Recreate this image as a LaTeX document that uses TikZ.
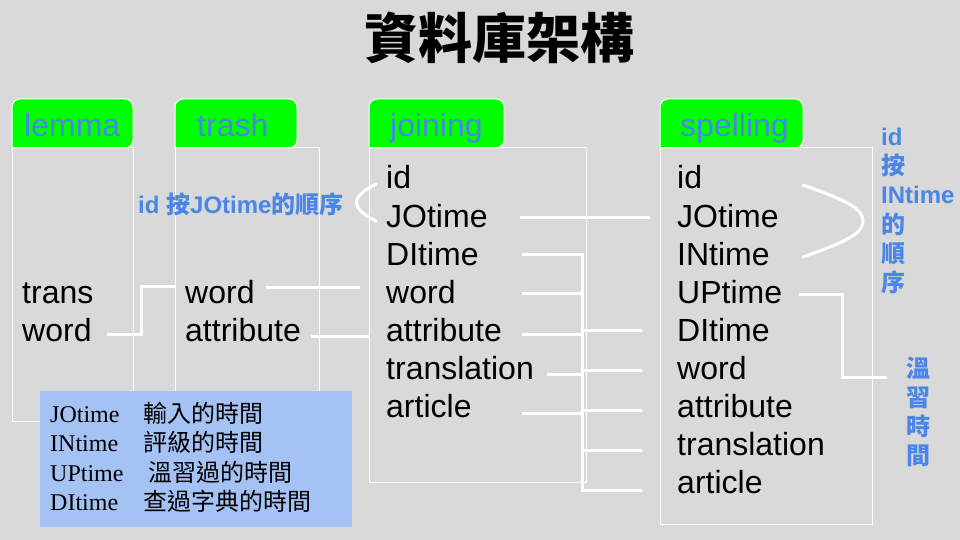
\documentclass[tikz,border=0pt]{standalone}
\usepackage{fontspec}
\setmainfont{Liberation Sans}
\newfontfamily\cjk{Noto Sans CJK TC}
\newfontfamily\tnr{Liberation Serif}
\definecolor{bgcol}{HTML}{D9D9D9}
\definecolor{tabgreen}{HTML}{00FF00}
\definecolor{lblblue}{HTML}{4A86E8}
\definecolor{legfill}{HTML}{A4C2F4}
\tikzset{
  tabbox/.style={draw=white, line width=1pt, fill=tabgreen, rounded corners=8pt},
  bodybox/.style={draw=white, line width=1pt},
  tabtext/.style={anchor=base west, inner sep=0pt, text=lblblue, font=\fontsize{32}{38}\selectfont},
  field/.style={anchor=base west, inner sep=0pt, text=black, font=\fontsize{32}{38}\selectfont},
  conn/.style={draw=white, line width=3pt},
  bluelbl/.style={anchor=base west, inner sep=0pt, text=lblblue, font=\bfseries\fontsize{24}{29}\selectfont},
  legtext/.style={anchor=base west, inner sep=0pt, text=black, font=\fontsize{24}{29}\selectfont},
}
\begin{document}
\begin{tikzpicture}[x=1pt, y=-1pt]
\useasboundingbox (0,0) rectangle (960,540);
\fill[bgcol] (0,0) rectangle (960,540);

% title
\node[inner sep=0pt, font=\cjk\bfseries\fontsize{54}{60}\selectfont] (title) at (499,38) {資料庫架構};

% tabs (rounded only at top)
\path[tabbox] (12,148) -- (12,99) -- (133,99) -- (133,148) [sharp corners] -- cycle;
\path[tabbox] (175,148) -- (175,99) -- (297,99) -- (297,148) [sharp corners] -- cycle;
\path[tabbox] (369,148) -- (369,99) -- (504,99) -- (504,148) [sharp corners] -- cycle;
\path[tabbox] (660,148) -- (660,99) -- (803,99) -- (803,148) [sharp corners] -- cycle;

% bodies
\draw[bodybox] (12,148) rectangle (133,421);
\draw[bodybox] (175,148) rectangle (319,421);
\draw[bodybox] (369,148) rectangle (586,482);
\draw[bodybox] (660,148) rectangle (872,524);

% headers
\node[tabtext] (h-lemma) at (24,137) {lemma};
\node[tabtext] (h-trash) at (197,137) {trash};
\node[tabtext] (h-join) at (390,137) {joining};
\node[tabtext] (h-spell) at (680,137) {spelling};

% lemma fields
\node[field] (l-trans) at (22,303) {trans};
\node[field] (l-word) at (22,341) {word};
% trash fields
\node[field] (t-word) at (185,303) {word};
\node[field] (t-attr) at (185,341) {attribute};
% joining fields
\node[field] (j-id) at (386,189) {id};
\node[field] (j-jo) at (386,227) {JOtime};
\node[field] (j-di) at (386,265) {DItime};
\node[field] (j-word) at (386,303) {word};
\node[field] (j-attr) at (386,341) {attribute};
\node[field] (j-trans) at (386,379) {translation};
\node[field] (j-art) at (386,417) {article};
% spelling fields
\node[field] (s-id) at (677,189) {id};
\node[field] (s-jo) at (677,227) {JOtime};
\node[field] (s-in) at (677,265) {INtime};
\node[field] (s-up) at (677,303) {UPtime};
\node[field] (s-di) at (677,341) {DItime};
\node[field] (s-word) at (677,379) {word};
\node[field] (s-attr) at (677,417) {attribute};
\node[field] (s-trans) at (677,455) {translation};
\node[field] (s-art) at (677,493) {article};

% blue labels
\node[bluelbl] (lbl-jo) at (138,213) {id {\cjk 按}JOtime{\cjk 的順序}};
\node[bluelbl] (lbl-in1) at (881,146) {id};
\node[bluelbl] (lbl-in2) at (881,175) {\cjk 按};
\node[bluelbl] (lbl-in3) at (881,204) {INtime};
\node[bluelbl] (lbl-in4) at (881,233) {\cjk 的};
\node[bluelbl] (lbl-in5) at (881,262) {\cjk 順};
\node[bluelbl] (lbl-in6) at (881,291) {\cjk 序};
\node[bluelbl] (lbl-up1) at (906,377) {\cjk 溫};
\node[bluelbl] (lbl-up2) at (906,406) {\cjk 習};
\node[bluelbl] (lbl-up3) at (906,435) {\cjk 時};
\node[bluelbl] (lbl-up4) at (906,464) {\cjk 間};

% connector end points
\coordinate (lw-o) at (107,334);
\coordinate (tw-i) at (175,286);
\coordinate (tw-o) at (266,287);
\coordinate (jw-i) at (360,287);
\coordinate (ta-o) at (311,336);
\coordinate (ja-i) at (369,336);
\coordinate (jid-a) at (376,184);
\coordinate (jid-b) at (376,221);
\coordinate (jjo-o) at (520,217);
\coordinate (sjo-i) at (650,217);
\coordinate (sid-a) at (803,185);
\coordinate (sid-tip) at (863,221);
\coordinate (sid-b) at (803,257);
\coordinate (jdi-o) at (522,254);
\coordinate (jwo-o) at (522,293);
\coordinate (jat-o) at (522,334);
\coordinate (jtr-o) at (547,374);
\coordinate (jar-o) at (522,413);
\coordinate (sdi-i) at (642,330);
\coordinate (swo-i) at (642,370);
\coordinate (sat-i) at (642,410);
\coordinate (str-i) at (642,450);
\coordinate (sar-i) at (642,490);
\coordinate (sup-o) at (799,294);
\coordinate (lblup-i) at (887,377);

% connectors
\draw[conn] (lw-o) -- (141,334) |- (tw-i);
\draw[conn] (tw-o) -- (jw-i);
\draw[conn] (ta-o) -- (ja-i);
\draw[conn, line cap=round] (jid-a) .. controls (350,197) and (350,208) .. (jid-b);
\draw[conn] (jjo-o) -- (sjo-i);
\draw[conn, line cap=round] (sid-a) .. controls (845,200) and (863,208) .. (sid-tip) .. controls (863,234) and (845,242) .. (sid-b);
\draw[conn] (jdi-o) -- (582,254) |- (sdi-i);
\draw[conn] (jwo-o) -- (582,293) |- (swo-i);
\draw[conn] (jat-o) -- (582,334) |- (sat-i);
\draw[conn] (jtr-o) -- (582,374) |- (str-i);
\draw[conn] (jar-o) -- (582,413) |- (sar-i);
\draw[conn] (sup-o) -- (842,294) |- (lblup-i);

% legend
\fill[legfill] (40,391) rectangle (352,527);
\node[legtext] (lg1a) at (50,422) {\tnr JOtime};
\node[legtext] (lg1b) at (143,422) {\cjk 輸入的時間};
\node[legtext] (lg2a) at (50,451) {\tnr INtime};
\node[legtext] (lg2b) at (143,451) {\cjk 評級的時間};
\node[legtext] (lg3a) at (50,481) {\tnr UPtime};
\node[legtext] (lg3b) at (148,481) {\cjk 溫習過的時間};
\node[legtext] (lg4a) at (50,510) {\tnr DItime};
\node[legtext] (lg4b) at (143,510) {\cjk 查過字典的時間};
\end{tikzpicture}
\end{document}
